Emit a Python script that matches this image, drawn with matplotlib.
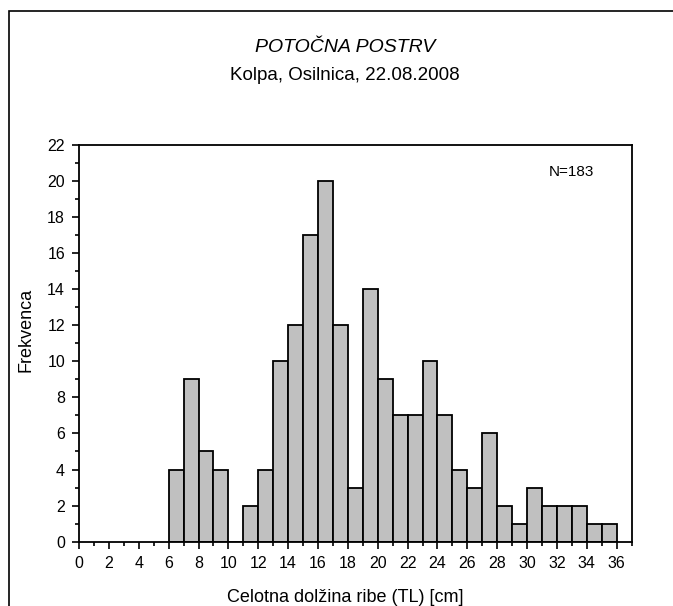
import matplotlib
matplotlib.use("Agg")
import matplotlib.pyplot as plt
from matplotlib.patches import Rectangle
from matplotlib.ticker import MultipleLocator

plt.rcParams['font.family'] = ['Liberation Sans', 'DejaVu Sans']

# Frekvenca po dolžinskih razredih (1 cm), od 6 do 36 cm
razredi = list(range(6, 36))
frekvenca = [4, 9, 5, 4, 0, 2, 4, 10, 12, 17, 20, 12, 3, 14, 9,
             7, 7, 10, 7, 4, 3, 6, 2, 1, 3, 2, 2, 2, 1, 1]
n_rib = 183

naslov = "POTOČNA POSTRV"
podnaslov = "Kolpa, Osilnica, 22.08.2008"
labelx = "Celotna dolžina ribe (TL) [cm]"
labely = "Frekvenca"

fig = plt.figure(figsize=(6.73, 6.06), dpi=100)
ax = fig.add_axes([0.1174, 0.1061, 0.8212, 0.6551])

# okvir okrog celotne slike (desni in spodnji rob sta odrezana)
fig.patches.append(Rectangle((9 / 673, -0.1), 1.2, 1 - 11 / 606 + 0.1,
                             transform=fig.transFigure, fill=False,
                             edgecolor="black", linewidth=1.2))

ax.bar(razredi, frekvenca, width=1, align="edge", color="#c0c0c0",
       edgecolor="black", linewidth=1.3)

ax.set_ylim(0, 22)
ax.xaxis.set_major_locator(MultipleLocator(2))
ax.xaxis.set_minor_locator(MultipleLocator(1))
ax.yaxis.set_major_locator(MultipleLocator(2))
ax.yaxis.set_minor_locator(MultipleLocator(1))
ax.set_xticks(range(0, 37, 2))
ax.set_xlim(0, 37)
ax.tick_params(axis="both", which="major", direction="out", length=5,
               width=1.2, colors="black")
ax.tick_params(axis="both", which="minor", direction="out", length=3,
               width=1.2)
ax.tick_params(axis="x", pad=5)
ax.tick_params(axis="y", pad=5)
for lab in ax.get_xticklabels() + ax.get_yticklabels():
    lab.set_fontfamily("Liberation Sans")
    lab.set_fontsize(11.5)
for s in ax.spines.values():
    s.set_linewidth(1.3)

ax.text(0.891, 0.931, f"N={n_rib}", transform=ax.transAxes, fontsize=11,
        ha="center", va="center")

fig.text(0.513, 1 - 48 / 606, naslov, ha="center", va="center",
         fontsize=14, style="italic")
fig.text(0.513, 1 - 76 / 606, podnaslov, ha="center", va="center",
         fontsize=13.5)
fig.text(0.513, 1 - 597 / 606, labelx, ha="center", va="center",
         fontsize=13)
fig.text(26 / 673, 1 - 330 / 606, labely, ha="center", va="center",
         fontsize=13, rotation=90)

fig.savefig("out.png", dpi=100)
